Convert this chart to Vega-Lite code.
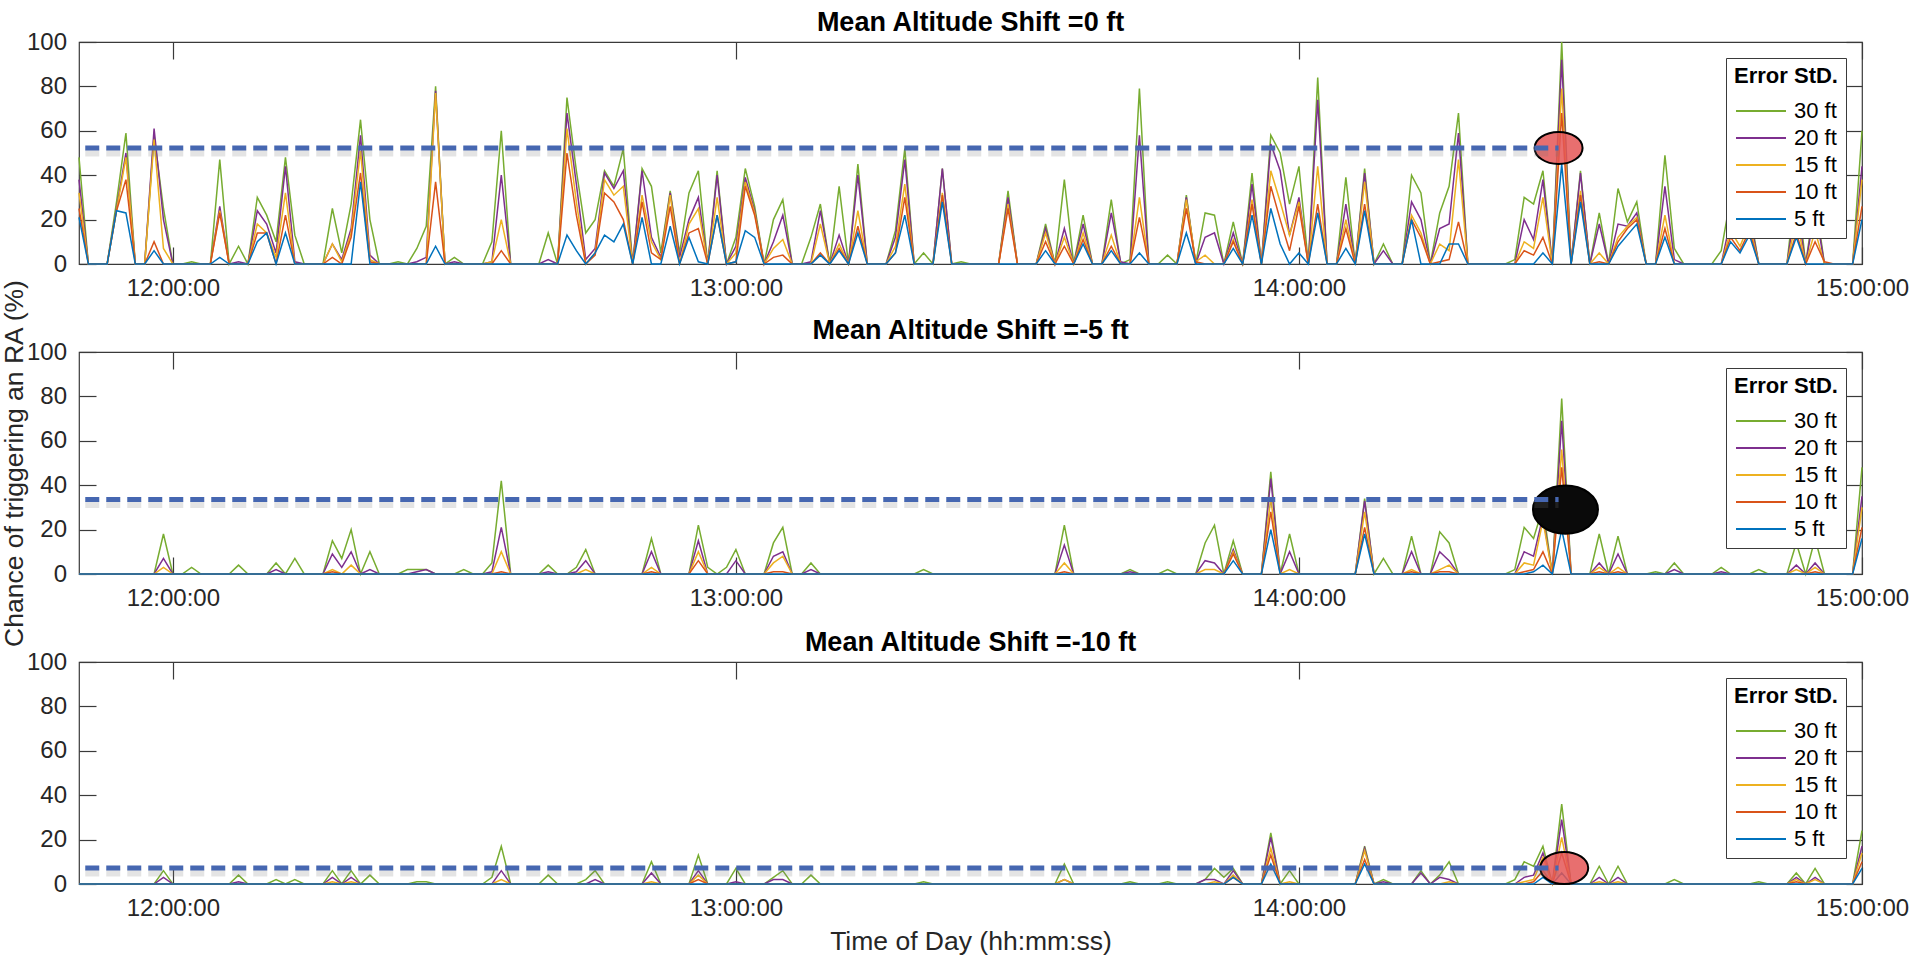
{
"$schema":"https://vega.github.io/schema/vega-lite/v6.json",
"autosize":{"type":"pad"},
"padding":{"left":0,"top":8,"right":5,"bottom":4},
"background":"white",
"bounds":"flush",
"spacing":88,
"config":{
 "font":"Liberation Sans",
 "view":{"stroke":"#3a3a3a","strokeWidth":1.2},
 "axis":{"grid":false,"domain":false,"tickColor":"#3a3a3a","tickWidth":1.2,"labelFont":"Liberation Sans","labelFontSize":24,"labelColor":"#262626","titleFont":"Liberation Sans","titleFontSize":26.5,"titleFontWeight":"normal","titleColor":"#262626","labelFlush":false,"labelOverlap":false,"labelBound":false},
 "title":{"font":"Liberation Sans","fontSize":27,"fontWeight":"bold","color":"#000000","anchor":"middle","baseline":"alphabetic","offset":-7},
 "legend":{"orient":"top-right","offset":16,"padding":8,"fillColor":"#ffffff","strokeColor":"#3a3a3a","strokeWidth":1,"titleFont":"Liberation Sans","titleFontSize":22,"titleFontWeight":"bold","titleColor":"#000000","titleAnchor":"middle","titlePadding":12,"labelFont":"Liberation Sans","labelFontSize":22,"labelColor":"#000000","symbolType":"M-2.5,0H2.5","symbolSize":400,"symbolStrokeWidth":2,"symbolOffset":15,"labelOffset":22,"rowPadding":5}
},
"resolve":{"scale":{"color":"independent","x":"independent","y":"independent"},"legend":{"color":"independent"}},
"datasets":{
"series":[{"k":"g","std":"30 ft"},{"k":"p","std":"20 ft"},{"k":"y","std":"15 ft"},{"k":"r","std":"10 ft"},{"k":"b","std":"5 ft"}],
"shift0":[
{"t":"11:50","g":48,"p":38,"y":32,"r":25,"b":21},{"t":"11:51","g":0,"p":0,"y":0,"r":0,"b":0},{"t":"11:52","g":0,"p":0,"y":0,"r":0,"b":0},{"t":"11:53","g":0,"p":0,"y":0,"r":0,"b":0},{"t":"11:54","g":28,"p":25,"y":24,"r":24,"b":24},{"t":"11:55","g":59,"p":50,"y":48,"r":38,"b":23},{"t":"11:56","g":0,"p":0,"y":0,"r":0,"b":0},{"t":"11:57","g":0,"p":0,"y":0,"r":0,"b":0},{"t":"11:58","g":58,"p":61,"y":56,"r":10,"b":6},{"t":"11:59","g":25,"p":20,"y":7,"r":0,"b":0},
{"t":"12:00","g":0,"p":0,"y":0,"r":0,"b":0},{"t":"12:01","g":0,"p":0,"y":0,"r":0,"b":0},{"t":"12:02","g":1,"p":0,"y":0,"r":0,"b":0},{"t":"12:03","g":0,"p":0,"y":0,"r":0,"b":0},{"t":"12:04","g":0,"p":0,"y":0,"r":0,"b":0},{"t":"12:05","g":47,"p":26,"y":24,"r":23,"b":3},{"t":"12:06","g":0,"p":0,"y":0,"r":0,"b":0},{"t":"12:07","g":8,"p":1,"y":0,"r":0,"b":0},{"t":"12:08","g":0,"p":0,"y":0,"r":0,"b":0},{"t":"12:09","g":30,"p":24,"y":18,"r":14,"b":10},
{"t":"12:10","g":22,"p":18,"y":14,"r":14,"b":14},{"t":"12:11","g":10,"p":5,"y":3,"r":0,"b":0},{"t":"12:12","g":48,"p":44,"y":32,"r":22,"b":14},{"t":"12:13","g":13,"p":1,"y":0,"r":0,"b":0},{"t":"12:14","g":0,"p":0,"y":0,"r":0,"b":0},{"t":"12:15","g":0,"p":0,"y":0,"r":0,"b":0},{"t":"12:16","g":0,"p":0,"y":0,"r":0,"b":0},{"t":"12:17","g":25,"p":9,"y":9,"r":3,"b":0},{"t":"12:18","g":5,"p":2,"y":1,"r":0,"b":0},{"t":"12:19","g":27,"p":16,"y":14,"r":12,"b":0},
{"t":"12:20","g":65,"p":58,"y":51,"r":41,"b":37},{"t":"12:21","g":20,"p":4,"y":2,"r":1,"b":0},{"t":"12:22","g":0,"p":0,"y":0,"r":0,"b":0},{"t":"12:23","g":0,"p":0,"y":0,"r":0,"b":0},{"t":"12:24","g":1,"p":0,"y":0,"r":0,"b":0},{"t":"12:25","g":0,"p":0,"y":0,"r":0,"b":0},{"t":"12:26","g":7,"p":1,"y":0,"r":0,"b":0},{"t":"12:27","g":17,"p":3,"y":0,"r":0,"b":0},{"t":"12:28","g":80,"p":78,"y":77,"r":37,"b":8},{"t":"12:29","g":0,"p":0,"y":0,"r":0,"b":0},
{"t":"12:30","g":3,"p":1,"y":0,"r":0,"b":0},{"t":"12:31","g":0,"p":0,"y":0,"r":0,"b":0},{"t":"12:32","g":0,"p":0,"y":0,"r":0,"b":0},{"t":"12:33","g":0,"p":0,"y":0,"r":0,"b":0},{"t":"12:34","g":10,"p":1,"y":1,"r":0,"b":0},{"t":"12:35","g":60,"p":40,"y":20,"r":6,"b":0},{"t":"12:36","g":0,"p":0,"y":0,"r":0,"b":0},{"t":"12:37","g":0,"p":0,"y":0,"r":0,"b":0},{"t":"12:38","g":0,"p":0,"y":0,"r":0,"b":0},{"t":"12:39","g":0,"p":0,"y":0,"r":0,"b":0},
{"t":"12:40","g":14,"p":2,"y":0,"r":0,"b":0},{"t":"12:41","g":0,"p":0,"y":0,"r":0,"b":0},{"t":"12:42","g":75,"p":68,"y":61,"r":50,"b":13},{"t":"12:43","g":42,"p":36,"y":28,"r":22,"b":6},{"t":"12:44","g":14,"p":2,"y":0,"r":0,"b":0},{"t":"12:45","g":20,"p":7,"y":5,"r":4,"b":5},{"t":"12:46","g":42,"p":41,"y":38,"r":32,"b":13},{"t":"12:47","g":35,"p":34,"y":31,"r":28,"b":10},{"t":"12:48","g":52,"p":42,"y":35,"r":20,"b":18},{"t":"12:49","g":0,"p":0,"y":0,"r":0,"b":0},
{"t":"12:50","g":43,"p":42,"y":31,"r":28,"b":21},{"t":"12:51","g":35,"p":12,"y":10,"r":5,"b":0},{"t":"12:52","g":5,"p":3,"y":2,"r":2,"b":0},{"t":"12:53","g":33,"p":32,"y":31,"r":26,"b":17},{"t":"12:54","g":5,"p":3,"y":0,"r":0,"b":0},{"t":"12:55","g":32,"p":20,"y":18,"r":14,"b":12},{"t":"12:56","g":42,"p":30,"y":25,"r":16,"b":1},{"t":"12:57","g":0,"p":0,"y":0,"r":0,"b":0},{"t":"12:58","g":42,"p":40,"y":30,"r":22,"b":22},{"t":"12:59","g":0,"p":0,"y":0,"r":0,"b":0},
{"t":"13:00","g":12,"p":8,"y":5,"r":1,"b":1},{"t":"13:01","g":43,"p":39,"y":37,"r":35,"b":15},{"t":"13:02","g":26,"p":24,"y":23,"r":22,"b":12},{"t":"13:03","g":0,"p":0,"y":0,"r":0,"b":0},{"t":"13:04","g":20,"p":10,"y":7,"r":3,"b":0},{"t":"13:05","g":29,"p":22,"y":11,"r":4,"b":0},{"t":"13:06","g":0,"p":0,"y":0,"r":0,"b":0},{"t":"13:07","g":0,"p":0,"y":0,"r":0,"b":0},{"t":"13:08","g":12,"p":1,"y":0,"r":0,"b":0},{"t":"13:09","g":27,"p":24,"y":18,"r":5,"b":4},
{"t":"13:10","g":0,"p":0,"y":0,"r":0,"b":0},{"t":"13:11","g":35,"p":13,"y":9,"r":7,"b":6},{"t":"13:12","g":0,"p":0,"y":0,"r":0,"b":0},{"t":"13:13","g":45,"p":40,"y":24,"r":17,"b":14},{"t":"13:14","g":0,"p":0,"y":0,"r":0,"b":0},{"t":"13:15","g":0,"p":0,"y":0,"r":0,"b":0},{"t":"13:16","g":0,"p":0,"y":0,"r":0,"b":0},{"t":"13:17","g":15,"p":12,"y":8,"r":5,"b":5},{"t":"13:18","g":52,"p":47,"y":36,"r":30,"b":22},{"t":"13:19","g":0,"p":0,"y":0,"r":0,"b":0},
{"t":"13:20","g":5,"p":0,"y":0,"r":0,"b":0},{"t":"13:21","g":0,"p":0,"y":0,"r":0,"b":0},{"t":"13:22","g":43,"p":43,"y":32,"r":31,"b":28},{"t":"13:23","g":0,"p":0,"y":0,"r":0,"b":0},{"t":"13:24","g":1,"p":0,"y":0,"r":0,"b":0},{"t":"13:25","g":0,"p":0,"y":0,"r":0,"b":0},{"t":"13:26","g":0,"p":0,"y":0,"r":0,"b":0},{"t":"13:27","g":0,"p":0,"y":0,"r":0,"b":0},{"t":"13:28","g":0,"p":0,"y":0,"r":0,"b":0},{"t":"13:29","g":33,"p":30,"y":27,"r":25,"b":0},
{"t":"13:30","g":0,"p":0,"y":0,"r":0,"b":0},{"t":"13:31","g":0,"p":0,"y":0,"r":0,"b":0},{"t":"13:32","g":0,"p":0,"y":0,"r":0,"b":0},{"t":"13:33","g":18,"p":16,"y":14,"r":10,"b":6},{"t":"13:34","g":0,"p":0,"y":0,"r":0,"b":0},{"t":"13:35","g":38,"p":16,"y":12,"r":8,"b":0},{"t":"13:36","g":0,"p":0,"y":0,"r":0,"b":0},{"t":"13:37","g":22,"p":18,"y":14,"r":11,"b":9},{"t":"13:38","g":0,"p":0,"y":0,"r":0,"b":0},{"t":"13:39","g":0,"p":0,"y":0,"r":0,"b":0},
{"t":"13:40","g":29,"p":23,"y":13,"r":8,"b":6},{"t":"13:41","g":0,"p":1,"y":0,"r":0,"b":0},{"t":"13:42","g":2,"p":0,"y":0,"r":0,"b":0},{"t":"13:43","g":79,"p":58,"y":30,"r":21,"b":5},{"t":"13:44","g":0,"p":0,"y":0,"r":0,"b":0},{"t":"13:45","g":0,"p":0,"y":0,"r":0,"b":0},{"t":"13:46","g":4,"p":0,"y":0,"r":0,"b":0},{"t":"13:47","g":0,"p":0,"y":0,"r":0,"b":0},{"t":"13:48","g":31,"p":30,"y":29,"r":25,"b":14},{"t":"13:49","g":0,"p":0,"y":1,"r":1,"b":0},
{"t":"13:50","g":23,"p":12,"y":4,"r":0,"b":0},{"t":"13:51","g":22,"p":14,"y":0,"r":0,"b":0},{"t":"13:52","g":0,"p":0,"y":0,"r":0,"b":0},{"t":"13:53","g":19,"p":14,"y":11,"r":10,"b":7},{"t":"13:54","g":0,"p":0,"y":0,"r":0,"b":0},{"t":"13:55","g":41,"p":36,"y":29,"r":27,"b":22},{"t":"13:56","g":0,"p":0,"y":0,"r":0,"b":0},{"t":"13:57","g":58,"p":54,"y":42,"r":35,"b":25},{"t":"13:58","g":50,"p":42,"y":28,"r":20,"b":9},{"t":"13:59","g":27,"p":13,"y":13,"r":6,"b":0},
{"t":"14:00","g":44,"p":30,"y":28,"r":26,"b":5},{"t":"14:01","g":0,"p":0,"y":0,"r":0,"b":0},{"t":"14:02","g":84,"p":74,"y":44,"r":27,"b":23},{"t":"14:03","g":0,"p":0,"y":0,"r":0,"b":0},{"t":"14:04","g":0,"p":0,"y":0,"r":0,"b":0},{"t":"14:05","g":39,"p":27,"y":20,"r":16,"b":7},{"t":"14:06","g":0,"p":0,"y":0,"r":0,"b":0},{"t":"14:07","g":43,"p":41,"y":37,"r":27,"b":24},{"t":"14:08","g":0,"p":0,"y":0,"r":0,"b":0},{"t":"14:09","g":9,"p":6,"y":0,"r":0,"b":0},
{"t":"14:10","g":0,"p":0,"y":0,"r":0,"b":0},{"t":"14:11","g":0,"p":0,"y":0,"r":0,"b":0},{"t":"14:12","g":40,"p":28,"y":22,"r":20,"b":20},{"t":"14:13","g":32,"p":20,"y":14,"r":12,"b":0},{"t":"14:14","g":0,"p":0,"y":0,"r":0,"b":0},{"t":"14:15","g":23,"p":16,"y":9,"r":1,"b":0},{"t":"14:16","g":35,"p":18,"y":6,"r":2,"b":9},{"t":"14:17","g":68,"p":59,"y":47,"r":19,"b":9},{"t":"14:18","g":0,"p":0,"y":0,"r":0,"b":0},{"t":"14:19","g":0,"p":0,"y":0,"r":0,"b":0},
{"t":"14:20","g":0,"p":0,"y":0,"r":0,"b":0},{"t":"14:21","g":0,"p":0,"y":0,"r":0,"b":0},{"t":"14:22","g":0,"p":0,"y":0,"r":0,"b":0},{"t":"14:23","g":2,"p":0,"y":0,"r":0,"b":0},{"t":"14:24","g":30,"p":20,"y":10,"r":6,"b":0},{"t":"14:25","g":27,"p":11,"y":7,"r":4,"b":0},{"t":"14:26","g":42,"p":38,"y":30,"r":12,"b":5},{"t":"14:27","g":0,"p":0,"y":0,"r":0,"b":0},{"t":"14:28","g":100,"p":92,"y":79,"r":68,"b":45},{"t":"14:29","g":0,"p":0,"y":0,"r":0,"b":0},
{"t":"14:30","g":42,"p":41,"y":33,"r":31,"b":28},{"t":"14:31","g":0,"p":0,"y":0,"r":0,"b":0},{"t":"14:32","g":23,"p":18,"y":5,"r":1,"b":0},{"t":"14:33","g":0,"p":0,"y":0,"r":0,"b":0},{"t":"14:34","g":34,"p":18,"y":12,"r":10,"b":8},{"t":"14:35","g":19,"p":17,"y":17,"r":16,"b":13},{"t":"14:36","g":28,"p":23,"y":21,"r":20,"b":18},{"t":"14:37","g":0,"p":0,"y":0,"r":0,"b":0},{"t":"14:38","g":0,"p":0,"y":0,"r":0,"b":0},{"t":"14:39","g":49,"p":35,"y":22,"r":16,"b":12},
{"t":"14:40","g":7,"p":2,"y":0,"r":0,"b":0},{"t":"14:41","g":0,"p":0,"y":0,"r":0,"b":0},{"t":"14:42","g":0,"p":0,"y":0,"r":0,"b":0},{"t":"14:43","g":0,"p":0,"y":0,"r":0,"b":0},{"t":"14:44","g":0,"p":0,"y":0,"r":0,"b":0},{"t":"14:45","g":6,"p":0,"y":0,"r":0,"b":0},{"t":"14:46","g":30,"p":20,"y":15,"r":12,"b":10},{"t":"14:47","g":20,"p":12,"y":8,"r":6,"b":5},{"t":"14:48","g":25,"p":22,"y":18,"r":15,"b":13},{"t":"14:49","g":0,"p":0,"y":0,"r":0,"b":0},
{"t":"14:50","g":0,"p":0,"y":0,"r":0,"b":0},{"t":"14:51","g":0,"p":0,"y":0,"r":0,"b":0},{"t":"14:52","g":0,"p":0,"y":0,"r":0,"b":0},{"t":"14:53","g":38,"p":28,"y":20,"r":14,"b":12},{"t":"14:54","g":0,"p":0,"y":0,"r":0,"b":0},{"t":"14:55","g":30,"p":25,"y":15,"r":10,"b":0},{"t":"14:56","g":0,"p":0,"y":0,"r":1,"b":0},{"t":"14:57","g":0,"p":0,"y":0,"r":0,"b":0},{"t":"14:58","g":0,"p":0,"y":0,"r":0,"b":0},{"t":"14:59","g":0,"p":0,"y":0,"r":0,"b":0},
{"t":"15:00","g":60,"p":44,"y":38,"r":26,"b":20}
],
"shift5":[
{"t":"11:50","g":0,"p":0,"y":0,"r":0,"b":0},{"t":"11:51","g":0,"p":0,"y":0,"r":0,"b":0},{"t":"11:52","g":0,"p":0,"y":0,"r":0,"b":0},{"t":"11:53","g":0,"p":0,"y":0,"r":0,"b":0},{"t":"11:54","g":0,"p":0,"y":0,"r":0,"b":0},{"t":"11:55","g":0,"p":0,"y":0,"r":0,"b":0},{"t":"11:56","g":0,"p":0,"y":0,"r":0,"b":0},{"t":"11:57","g":0,"p":0,"y":0,"r":0,"b":0},{"t":"11:58","g":0,"p":0,"y":0,"r":0,"b":0},{"t":"11:59","g":18,"p":7,"y":3,"r":0,"b":0},
{"t":"12:00","g":0,"p":0,"y":0,"r":0,"b":0},{"t":"12:01","g":0,"p":0,"y":0,"r":0,"b":0},{"t":"12:02","g":3,"p":0,"y":0,"r":0,"b":0},{"t":"12:03","g":0,"p":0,"y":0,"r":0,"b":0},{"t":"12:04","g":0,"p":0,"y":0,"r":0,"b":0},{"t":"12:05","g":0,"p":0,"y":0,"r":0,"b":0},{"t":"12:06","g":0,"p":0,"y":0,"r":0,"b":0},{"t":"12:07","g":4,"p":0,"y":0,"r":0,"b":0},{"t":"12:08","g":0,"p":0,"y":0,"r":0,"b":0},{"t":"12:09","g":0,"p":0,"y":0,"r":0,"b":0},
{"t":"12:10","g":0,"p":0,"y":0,"r":0,"b":0},{"t":"12:11","g":5,"p":2,"y":0,"r":0,"b":0},{"t":"12:12","g":0,"p":0,"y":0,"r":0,"b":0},{"t":"12:13","g":7,"p":0,"y":0,"r":0,"b":0},{"t":"12:14","g":0,"p":0,"y":0,"r":0,"b":0},{"t":"12:15","g":0,"p":0,"y":0,"r":0,"b":0},{"t":"12:16","g":0,"p":0,"y":0,"r":0,"b":0},{"t":"12:17","g":15,"p":9,"y":2,"r":1,"b":0},{"t":"12:18","g":7,"p":3,"y":0,"r":0,"b":0},{"t":"12:19","g":20,"p":10,"y":4,"r":0,"b":0},
{"t":"12:20","g":0,"p":0,"y":0,"r":0,"b":0},{"t":"12:21","g":10,"p":2,"y":0,"r":0,"b":0},{"t":"12:22","g":0,"p":0,"y":0,"r":0,"b":0},{"t":"12:23","g":0,"p":0,"y":0,"r":0,"b":0},{"t":"12:24","g":0,"p":0,"y":0,"r":0,"b":0},{"t":"12:25","g":2,"p":0,"y":0,"r":0,"b":0},{"t":"12:26","g":2,"p":1,"y":0,"r":0,"b":0},{"t":"12:27","g":2,"p":2,"y":0,"r":0,"b":0},{"t":"12:28","g":0,"p":0,"y":0,"r":0,"b":0},{"t":"12:29","g":0,"p":0,"y":0,"r":0,"b":0},
{"t":"12:30","g":0,"p":0,"y":0,"r":0,"b":0},{"t":"12:31","g":2,"p":0,"y":0,"r":0,"b":0},{"t":"12:32","g":0,"p":0,"y":0,"r":0,"b":0},{"t":"12:33","g":0,"p":0,"y":0,"r":0,"b":0},{"t":"12:34","g":5,"p":1,"y":0,"r":0,"b":0},{"t":"12:35","g":42,"p":21,"y":10,"r":1,"b":0},{"t":"12:36","g":0,"p":0,"y":0,"r":0,"b":0},{"t":"12:37","g":0,"p":0,"y":0,"r":0,"b":0},{"t":"12:38","g":0,"p":0,"y":0,"r":0,"b":0},{"t":"12:39","g":0,"p":0,"y":0,"r":0,"b":0},
{"t":"12:40","g":4,"p":1,"y":0,"r":0,"b":0},{"t":"12:41","g":0,"p":0,"y":0,"r":0,"b":0},{"t":"12:42","g":0,"p":0,"y":0,"r":0,"b":0},{"t":"12:43","g":3,"p":1,"y":0,"r":0,"b":0},{"t":"12:44","g":11,"p":6,"y":2,"r":0,"b":0},{"t":"12:45","g":0,"p":0,"y":0,"r":0,"b":0},{"t":"12:46","g":0,"p":0,"y":0,"r":0,"b":0},{"t":"12:47","g":0,"p":0,"y":0,"r":0,"b":0},{"t":"12:48","g":0,"p":0,"y":0,"r":0,"b":0},{"t":"12:49","g":0,"p":0,"y":0,"r":0,"b":0},
{"t":"12:50","g":0,"p":0,"y":0,"r":0,"b":0},{"t":"12:51","g":16,"p":10,"y":3,"r":1,"b":0},{"t":"12:52","g":0,"p":0,"y":0,"r":0,"b":0},{"t":"12:53","g":0,"p":0,"y":0,"r":0,"b":0},{"t":"12:54","g":0,"p":0,"y":0,"r":0,"b":0},{"t":"12:55","g":0,"p":0,"y":0,"r":0,"b":0},{"t":"12:56","g":22,"p":15,"y":10,"r":6,"b":0},{"t":"12:57","g":3,"p":0,"y":0,"r":0,"b":0},{"t":"12:58","g":0,"p":0,"y":0,"r":0,"b":0},{"t":"12:59","g":3,"p":0,"y":0,"r":0,"b":0},
{"t":"13:00","g":11,"p":6,"y":0,"r":0,"b":0},{"t":"13:01","g":0,"p":0,"y":0,"r":0,"b":0},{"t":"13:02","g":0,"p":0,"y":0,"r":0,"b":0},{"t":"13:03","g":0,"p":0,"y":0,"r":0,"b":0},{"t":"13:04","g":14,"p":8,"y":5,"r":1,"b":0},{"t":"13:05","g":21,"p":10,"y":8,"r":1,"b":0},{"t":"13:06","g":0,"p":0,"y":0,"r":0,"b":0},{"t":"13:07","g":0,"p":0,"y":0,"r":0,"b":0},{"t":"13:08","g":5,"p":2,"y":0,"r":0,"b":0},{"t":"13:09","g":0,"p":0,"y":0,"r":0,"b":0},
{"t":"13:10","g":0,"p":0,"y":0,"r":0,"b":0},{"t":"13:11","g":0,"p":0,"y":0,"r":0,"b":0},{"t":"13:12","g":0,"p":0,"y":0,"r":0,"b":0},{"t":"13:13","g":0,"p":0,"y":0,"r":0,"b":0},{"t":"13:14","g":0,"p":0,"y":0,"r":0,"b":0},{"t":"13:15","g":0,"p":0,"y":0,"r":0,"b":0},{"t":"13:16","g":0,"p":0,"y":0,"r":0,"b":0},{"t":"13:17","g":0,"p":0,"y":0,"r":0,"b":0},{"t":"13:18","g":0,"p":0,"y":0,"r":0,"b":0},{"t":"13:19","g":0,"p":0,"y":0,"r":0,"b":0},
{"t":"13:20","g":2,"p":0,"y":0,"r":0,"b":0},{"t":"13:21","g":0,"p":0,"y":0,"r":0,"b":0},{"t":"13:22","g":0,"p":0,"y":0,"r":0,"b":0},{"t":"13:23","g":0,"p":0,"y":0,"r":0,"b":0},{"t":"13:24","g":0,"p":0,"y":0,"r":0,"b":0},{"t":"13:25","g":0,"p":0,"y":0,"r":0,"b":0},{"t":"13:26","g":0,"p":0,"y":0,"r":0,"b":0},{"t":"13:27","g":0,"p":0,"y":0,"r":0,"b":0},{"t":"13:28","g":0,"p":0,"y":0,"r":0,"b":0},{"t":"13:29","g":0,"p":0,"y":0,"r":0,"b":0},
{"t":"13:30","g":0,"p":0,"y":0,"r":0,"b":0},{"t":"13:31","g":0,"p":0,"y":0,"r":0,"b":0},{"t":"13:32","g":0,"p":0,"y":0,"r":0,"b":0},{"t":"13:33","g":0,"p":0,"y":0,"r":0,"b":0},{"t":"13:34","g":0,"p":0,"y":0,"r":0,"b":0},{"t":"13:35","g":22,"p":13,"y":5,"r":1,"b":0},{"t":"13:36","g":0,"p":0,"y":0,"r":0,"b":0},{"t":"13:37","g":0,"p":0,"y":0,"r":0,"b":0},{"t":"13:38","g":0,"p":0,"y":0,"r":0,"b":0},{"t":"13:39","g":0,"p":0,"y":0,"r":0,"b":0},
{"t":"13:40","g":0,"p":0,"y":0,"r":0,"b":0},{"t":"13:41","g":0,"p":0,"y":0,"r":0,"b":0},{"t":"13:42","g":2,"p":1,"y":0,"r":0,"b":0},{"t":"13:43","g":0,"p":0,"y":0,"r":0,"b":0},{"t":"13:44","g":0,"p":0,"y":0,"r":0,"b":0},{"t":"13:45","g":0,"p":0,"y":0,"r":0,"b":0},{"t":"13:46","g":2,"p":0,"y":0,"r":0,"b":0},{"t":"13:47","g":0,"p":0,"y":0,"r":0,"b":0},{"t":"13:48","g":0,"p":0,"y":0,"r":0,"b":0},{"t":"13:49","g":0,"p":0,"y":0,"r":0,"b":0},
{"t":"13:50","g":14,"p":6,"y":2,"r":0,"b":0},{"t":"13:51","g":22,"p":5,"y":2,"r":0,"b":0},{"t":"13:52","g":0,"p":0,"y":0,"r":0,"b":0},{"t":"13:53","g":15,"p":11,"y":10,"r":9,"b":6},{"t":"13:54","g":0,"p":0,"y":0,"r":0,"b":0},{"t":"13:55","g":0,"p":0,"y":0,"r":0,"b":0},{"t":"13:56","g":0,"p":0,"y":0,"r":0,"b":0},{"t":"13:57","g":46,"p":43,"y":34,"r":28,"b":20},{"t":"13:58","g":0,"p":0,"y":0,"r":0,"b":0},{"t":"13:59","g":18,"p":10,"y":2,"r":0,"b":0},
{"t":"14:00","g":0,"p":0,"y":0,"r":0,"b":0},{"t":"14:01","g":0,"p":0,"y":0,"r":0,"b":0},{"t":"14:02","g":0,"p":0,"y":0,"r":0,"b":0},{"t":"14:03","g":0,"p":0,"y":0,"r":0,"b":0},{"t":"14:04","g":0,"p":0,"y":0,"r":0,"b":0},{"t":"14:05","g":0,"p":0,"y":0,"r":0,"b":0},{"t":"14:06","g":0,"p":0,"y":0,"r":0,"b":0},{"t":"14:07","g":34,"p":33,"y":28,"r":21,"b":18},{"t":"14:08","g":0,"p":0,"y":0,"r":0,"b":0},{"t":"14:09","g":7,"p":0,"y":0,"r":0,"b":0},
{"t":"14:10","g":0,"p":0,"y":0,"r":0,"b":0},{"t":"14:11","g":0,"p":0,"y":0,"r":0,"b":0},{"t":"14:12","g":17,"p":10,"y":2,"r":1,"b":0},{"t":"14:13","g":0,"p":0,"y":0,"r":0,"b":0},{"t":"14:14","g":0,"p":0,"y":0,"r":0,"b":0},{"t":"14:15","g":19,"p":10,"y":2,"r":1,"b":0},{"t":"14:16","g":14,"p":6,"y":4,"r":1,"b":0},{"t":"14:17","g":0,"p":0,"y":0,"r":0,"b":0},{"t":"14:18","g":0,"p":0,"y":0,"r":0,"b":0},{"t":"14:19","g":0,"p":0,"y":0,"r":0,"b":0},
{"t":"14:20","g":0,"p":0,"y":0,"r":0,"b":0},{"t":"14:21","g":0,"p":0,"y":0,"r":0,"b":0},{"t":"14:22","g":0,"p":0,"y":0,"r":0,"b":0},{"t":"14:23","g":2,"p":0,"y":0,"r":0,"b":0},{"t":"14:24","g":21,"p":10,"y":5,"r":1,"b":0},{"t":"14:25","g":16,"p":8,"y":4,"r":2,"b":1},{"t":"14:26","g":30,"p":26,"y":24,"r":10,"b":4},{"t":"14:27","g":0,"p":0,"y":0,"r":0,"b":0},{"t":"14:28","g":79,"p":69,"y":56,"r":48,"b":20},{"t":"14:29","g":0,"p":0,"y":0,"r":0,"b":0},
{"t":"14:30","g":0,"p":0,"y":0,"r":0,"b":0},{"t":"14:31","g":0,"p":0,"y":0,"r":0,"b":0},{"t":"14:32","g":18,"p":5,"y":3,"r":1,"b":0},{"t":"14:33","g":0,"p":0,"y":0,"r":0,"b":0},{"t":"14:34","g":17,"p":9,"y":3,"r":1,"b":0},{"t":"14:35","g":0,"p":0,"y":0,"r":0,"b":0},{"t":"14:36","g":0,"p":0,"y":0,"r":0,"b":0},{"t":"14:37","g":0,"p":0,"y":0,"r":0,"b":0},{"t":"14:38","g":1,"p":0,"y":0,"r":0,"b":0},{"t":"14:39","g":0,"p":0,"y":0,"r":0,"b":0},
{"t":"14:40","g":5,"p":2,"y":0,"r":0,"b":0},{"t":"14:41","g":0,"p":0,"y":0,"r":0,"b":0},{"t":"14:42","g":0,"p":0,"y":0,"r":0,"b":0},{"t":"14:43","g":0,"p":0,"y":0,"r":0,"b":0},{"t":"14:44","g":0,"p":0,"y":0,"r":0,"b":0},{"t":"14:45","g":3,"p":1,"y":0,"r":0,"b":0},{"t":"14:46","g":0,"p":0,"y":0,"r":0,"b":0},{"t":"14:47","g":0,"p":0,"y":0,"r":0,"b":0},{"t":"14:48","g":0,"p":0,"y":0,"r":0,"b":0},{"t":"14:49","g":2,"p":0,"y":0,"r":0,"b":0},
{"t":"14:50","g":0,"p":0,"y":0,"r":0,"b":0},{"t":"14:51","g":0,"p":0,"y":0,"r":0,"b":0},{"t":"14:52","g":0,"p":0,"y":0,"r":0,"b":0},{"t":"14:53","g":14,"p":4,"y":2,"r":0,"b":0},{"t":"14:54","g":0,"p":0,"y":0,"r":0,"b":0},{"t":"14:55","g":16,"p":5,"y":3,"r":1,"b":0},{"t":"14:56","g":0,"p":0,"y":0,"r":0,"b":0},{"t":"14:57","g":0,"p":0,"y":0,"r":0,"b":0},{"t":"14:58","g":0,"p":0,"y":0,"r":0,"b":0},{"t":"14:59","g":0,"p":0,"y":0,"r":0,"b":0},
{"t":"15:00","g":48,"p":35,"y":30,"r":21,"b":16}
],
"shift10":[
{"t":"11:50","g":0,"p":0,"y":0,"r":0,"b":0},{"t":"11:51","g":0,"p":0,"y":0,"r":0,"b":0},{"t":"11:52","g":0,"p":0,"y":0,"r":0,"b":0},{"t":"11:53","g":0,"p":0,"y":0,"r":0,"b":0},{"t":"11:54","g":0,"p":0,"y":0,"r":0,"b":0},{"t":"11:55","g":0,"p":0,"y":0,"r":0,"b":0},{"t":"11:56","g":0,"p":0,"y":0,"r":0,"b":0},{"t":"11:57","g":0,"p":0,"y":0,"r":0,"b":0},{"t":"11:58","g":0,"p":0,"y":0,"r":0,"b":0},{"t":"11:59","g":6,"p":3,"y":0,"r":0,"b":0},
{"t":"12:00","g":0,"p":0,"y":0,"r":0,"b":0},{"t":"12:01","g":0,"p":0,"y":0,"r":0,"b":0},{"t":"12:02","g":0,"p":0,"y":0,"r":0,"b":0},{"t":"12:03","g":0,"p":0,"y":0,"r":0,"b":0},{"t":"12:04","g":0,"p":0,"y":0,"r":0,"b":0},{"t":"12:05","g":0,"p":0,"y":0,"r":0,"b":0},{"t":"12:06","g":0,"p":0,"y":0,"r":0,"b":0},{"t":"12:07","g":4,"p":1,"y":0,"r":0,"b":0},{"t":"12:08","g":0,"p":0,"y":0,"r":0,"b":0},{"t":"12:09","g":0,"p":0,"y":0,"r":0,"b":0},
{"t":"12:10","g":0,"p":0,"y":0,"r":0,"b":0},{"t":"12:11","g":2,"p":0,"y":0,"r":0,"b":0},{"t":"12:12","g":0,"p":0,"y":0,"r":0,"b":0},{"t":"12:13","g":2,"p":0,"y":0,"r":0,"b":0},{"t":"12:14","g":0,"p":0,"y":0,"r":0,"b":0},{"t":"12:15","g":0,"p":0,"y":0,"r":0,"b":0},{"t":"12:16","g":0,"p":0,"y":0,"r":0,"b":0},{"t":"12:17","g":6,"p":3,"y":1,"r":0,"b":0},{"t":"12:18","g":0,"p":0,"y":0,"r":0,"b":0},{"t":"12:19","g":6,"p":3,"y":1,"r":0,"b":0},
{"t":"12:20","g":0,"p":0,"y":0,"r":0,"b":0},{"t":"12:21","g":4,"p":0,"y":0,"r":0,"b":0},{"t":"12:22","g":0,"p":0,"y":0,"r":0,"b":0},{"t":"12:23","g":0,"p":0,"y":0,"r":0,"b":0},{"t":"12:24","g":0,"p":0,"y":0,"r":0,"b":0},{"t":"12:25","g":0,"p":0,"y":0,"r":0,"b":0},{"t":"12:26","g":1,"p":0,"y":0,"r":0,"b":0},{"t":"12:27","g":1,"p":0,"y":0,"r":0,"b":0},{"t":"12:28","g":0,"p":0,"y":0,"r":0,"b":0},{"t":"12:29","g":0,"p":0,"y":0,"r":0,"b":0},
{"t":"12:30","g":0,"p":0,"y":0,"r":0,"b":0},{"t":"12:31","g":0,"p":0,"y":0,"r":0,"b":0},{"t":"12:32","g":0,"p":0,"y":0,"r":0,"b":0},{"t":"12:33","g":0,"p":0,"y":0,"r":0,"b":0},{"t":"12:34","g":3,"p":0,"y":0,"r":0,"b":0},{"t":"12:35","g":17,"p":6,"y":2,"r":0,"b":0},{"t":"12:36","g":0,"p":0,"y":0,"r":0,"b":0},{"t":"12:37","g":0,"p":0,"y":0,"r":0,"b":0},{"t":"12:38","g":0,"p":0,"y":0,"r":0,"b":0},{"t":"12:39","g":0,"p":0,"y":0,"r":0,"b":0},
{"t":"12:40","g":4,"p":0,"y":0,"r":0,"b":0},{"t":"12:41","g":0,"p":0,"y":0,"r":0,"b":0},{"t":"12:42","g":0,"p":0,"y":0,"r":0,"b":0},{"t":"12:43","g":0,"p":0,"y":0,"r":0,"b":0},{"t":"12:44","g":2,"p":0,"y":0,"r":0,"b":0},{"t":"12:45","g":6,"p":2,"y":0,"r":0,"b":0},{"t":"12:46","g":0,"p":0,"y":0,"r":0,"b":0},{"t":"12:47","g":0,"p":0,"y":0,"r":0,"b":0},{"t":"12:48","g":0,"p":0,"y":0,"r":0,"b":0},{"t":"12:49","g":0,"p":0,"y":0,"r":0,"b":0},
{"t":"12:50","g":0,"p":0,"y":0,"r":0,"b":0},{"t":"12:51","g":10,"p":5,"y":1,"r":0,"b":0},{"t":"12:52","g":0,"p":0,"y":0,"r":0,"b":0},{"t":"12:53","g":0,"p":0,"y":0,"r":0,"b":0},{"t":"12:54","g":0,"p":0,"y":0,"r":0,"b":0},{"t":"12:55","g":0,"p":0,"y":0,"r":0,"b":0},{"t":"12:56","g":13,"p":6,"y":4,"r":2,"b":0},{"t":"12:57","g":0,"p":0,"y":0,"r":0,"b":0},{"t":"12:58","g":0,"p":0,"y":0,"r":0,"b":0},{"t":"12:59","g":0,"p":0,"y":0,"r":0,"b":0},
{"t":"13:00","g":7,"p":1,"y":0,"r":0,"b":0},{"t":"13:01","g":0,"p":0,"y":0,"r":0,"b":0},{"t":"13:02","g":0,"p":0,"y":0,"r":0,"b":0},{"t":"13:03","g":0,"p":0,"y":0,"r":0,"b":0},{"t":"13:04","g":3,"p":2,"y":0,"r":0,"b":0},{"t":"13:05","g":6,"p":2,"y":0,"r":0,"b":0},{"t":"13:06","g":0,"p":0,"y":0,"r":0,"b":0},{"t":"13:07","g":0,"p":0,"y":0,"r":0,"b":0},{"t":"13:08","g":4,"p":0,"y":0,"r":0,"b":0},{"t":"13:09","g":0,"p":0,"y":0,"r":0,"b":0},
{"t":"13:10","g":0,"p":0,"y":0,"r":0,"b":0},{"t":"13:11","g":0,"p":0,"y":0,"r":0,"b":0},{"t":"13:12","g":0,"p":0,"y":0,"r":0,"b":0},{"t":"13:13","g":0,"p":0,"y":0,"r":0,"b":0},{"t":"13:14","g":0,"p":0,"y":0,"r":0,"b":0},{"t":"13:15","g":0,"p":0,"y":0,"r":0,"b":0},{"t":"13:16","g":0,"p":0,"y":0,"r":0,"b":0},{"t":"13:17","g":0,"p":0,"y":0,"r":0,"b":0},{"t":"13:18","g":0,"p":0,"y":0,"r":0,"b":0},{"t":"13:19","g":0,"p":0,"y":0,"r":0,"b":0},
{"t":"13:20","g":1,"p":0,"y":0,"r":0,"b":0},{"t":"13:21","g":0,"p":0,"y":0,"r":0,"b":0},{"t":"13:22","g":0,"p":0,"y":0,"r":0,"b":0},{"t":"13:23","g":0,"p":0,"y":0,"r":0,"b":0},{"t":"13:24","g":0,"p":0,"y":0,"r":0,"b":0},{"t":"13:25","g":0,"p":0,"y":0,"r":0,"b":0},{"t":"13:26","g":0,"p":0,"y":0,"r":0,"b":0},{"t":"13:27","g":0,"p":0,"y":0,"r":0,"b":0},{"t":"13:28","g":0,"p":0,"y":0,"r":0,"b":0},{"t":"13:29","g":0,"p":0,"y":0,"r":0,"b":0},
{"t":"13:30","g":0,"p":0,"y":0,"r":0,"b":0},{"t":"13:31","g":0,"p":0,"y":0,"r":0,"b":0},{"t":"13:32","g":0,"p":0,"y":0,"r":0,"b":0},{"t":"13:33","g":0,"p":0,"y":0,"r":0,"b":0},{"t":"13:34","g":0,"p":0,"y":0,"r":0,"b":0},{"t":"13:35","g":9,"p":2,"y":2,"r":0,"b":0},{"t":"13:36","g":0,"p":0,"y":0,"r":0,"b":0},{"t":"13:37","g":0,"p":0,"y":0,"r":0,"b":0},{"t":"13:38","g":0,"p":0,"y":0,"r":0,"b":0},{"t":"13:39","g":0,"p":0,"y":0,"r":0,"b":0},
{"t":"13:40","g":0,"p":0,"y":0,"r":0,"b":0},{"t":"13:41","g":0,"p":0,"y":0,"r":0,"b":0},{"t":"13:42","g":1,"p":0,"y":0,"r":0,"b":0},{"t":"13:43","g":0,"p":0,"y":0,"r":0,"b":0},{"t":"13:44","g":0,"p":0,"y":0,"r":0,"b":0},{"t":"13:45","g":0,"p":0,"y":0,"r":0,"b":0},{"t":"13:46","g":1,"p":0,"y":0,"r":0,"b":0},{"t":"13:47","g":0,"p":0,"y":0,"r":0,"b":0},{"t":"13:48","g":0,"p":0,"y":0,"r":0,"b":0},{"t":"13:49","g":0,"p":0,"y":0,"r":0,"b":0},
{"t":"13:50","g":2,"p":2,"y":0,"r":0,"b":0},{"t":"13:51","g":7,"p":2,"y":1,"r":0,"b":0},{"t":"13:52","g":3,"p":0,"y":0,"r":0,"b":0},{"t":"13:53","g":7,"p":6,"y":4,"r":3,"b":3},{"t":"13:54","g":0,"p":0,"y":0,"r":0,"b":0},{"t":"13:55","g":0,"p":0,"y":0,"r":0,"b":0},{"t":"13:56","g":0,"p":0,"y":0,"r":0,"b":0},{"t":"13:57","g":23,"p":21,"y":16,"r":13,"b":9},{"t":"13:58","g":0,"p":0,"y":0,"r":0,"b":0},{"t":"13:59","g":6,"p":0,"y":1,"r":0,"b":0},
{"t":"14:00","g":0,"p":0,"y":0,"r":0,"b":0},{"t":"14:01","g":0,"p":0,"y":0,"r":0,"b":0},{"t":"14:02","g":0,"p":0,"y":0,"r":0,"b":0},{"t":"14:03","g":0,"p":0,"y":0,"r":0,"b":0},{"t":"14:04","g":0,"p":0,"y":0,"r":0,"b":0},{"t":"14:05","g":0,"p":0,"y":0,"r":0,"b":0},{"t":"14:06","g":0,"p":0,"y":0,"r":0,"b":0},{"t":"14:07","g":17,"p":16,"y":15,"r":11,"b":9},{"t":"14:08","g":0,"p":0,"y":0,"r":0,"b":0},{"t":"14:09","g":2,"p":1,"y":0,"r":0,"b":0},
{"t":"14:10","g":0,"p":0,"y":0,"r":0,"b":0},{"t":"14:11","g":0,"p":0,"y":0,"r":0,"b":0},{"t":"14:12","g":0,"p":0,"y":0,"r":0,"b":0},{"t":"14:13","g":6,"p":5,"y":0,"r":0,"b":0},{"t":"14:14","g":0,"p":0,"y":0,"r":0,"b":0},{"t":"14:15","g":4,"p":3,"y":0,"r":0,"b":0},{"t":"14:16","g":10,"p":2,"y":1,"r":0,"b":0},{"t":"14:17","g":0,"p":0,"y":0,"r":0,"b":0},{"t":"14:18","g":0,"p":0,"y":0,"r":0,"b":0},{"t":"14:19","g":0,"p":0,"y":0,"r":0,"b":0},
{"t":"14:20","g":0,"p":0,"y":0,"r":0,"b":0},{"t":"14:21","g":0,"p":0,"y":0,"r":0,"b":0},{"t":"14:22","g":0,"p":0,"y":0,"r":0,"b":0},{"t":"14:23","g":2,"p":0,"y":0,"r":0,"b":0},{"t":"14:24","g":10,"p":3,"y":1,"r":0,"b":0},{"t":"14:25","g":8,"p":4,"y":2,"r":1,"b":0},{"t":"14:26","g":17,"p":14,"y":12,"r":6,"b":3},{"t":"14:27","g":0,"p":0,"y":0,"r":0,"b":0},{"t":"14:28","g":36,"p":29,"y":21,"r":14,"b":5},{"t":"14:29","g":0,"p":0,"y":0,"r":0,"b":0},
{"t":"14:30","g":0,"p":0,"y":0,"r":0,"b":0},{"t":"14:31","g":0,"p":0,"y":0,"r":0,"b":0},{"t":"14:32","g":8,"p":3,"y":1,"r":0,"b":0},{"t":"14:33","g":0,"p":0,"y":0,"r":0,"b":0},{"t":"14:34","g":8,"p":3,"y":1,"r":0,"b":0},{"t":"14:35","g":0,"p":0,"y":0,"r":0,"b":0},{"t":"14:36","g":0,"p":0,"y":0,"r":0,"b":0},{"t":"14:37","g":0,"p":0,"y":0,"r":0,"b":0},{"t":"14:38","g":0,"p":0,"y":0,"r":0,"b":0},{"t":"14:39","g":0,"p":0,"y":0,"r":0,"b":0},
{"t":"14:40","g":2,"p":0,"y":0,"r":0,"b":0},{"t":"14:41","g":0,"p":0,"y":0,"r":0,"b":0},{"t":"14:42","g":0,"p":0,"y":0,"r":0,"b":0},{"t":"14:43","g":0,"p":0,"y":0,"r":0,"b":0},{"t":"14:44","g":0,"p":0,"y":0,"r":0,"b":0},{"t":"14:45","g":0,"p":0,"y":0,"r":0,"b":0},{"t":"14:46","g":0,"p":0,"y":0,"r":0,"b":0},{"t":"14:47","g":0,"p":0,"y":0,"r":0,"b":0},{"t":"14:48","g":0,"p":0,"y":0,"r":0,"b":0},{"t":"14:49","g":1,"p":0,"y":0,"r":0,"b":0},
{"t":"14:50","g":0,"p":0,"y":0,"r":0,"b":0},{"t":"14:51","g":0,"p":0,"y":0,"r":0,"b":0},{"t":"14:52","g":0,"p":0,"y":0,"r":0,"b":0},{"t":"14:53","g":5,"p":3,"y":2,"r":1,"b":0},{"t":"14:54","g":0,"p":0,"y":0,"r":0,"b":0},{"t":"14:55","g":7,"p":3,"y":2,"r":0,"b":0},{"t":"14:56","g":0,"p":0,"y":0,"r":0,"b":0},{"t":"14:57","g":0,"p":0,"y":0,"r":0,"b":0},{"t":"14:58","g":0,"p":0,"y":0,"r":0,"b":0},{"t":"14:59","g":0,"p":0,"y":0,"r":0,"b":0},
{"t":"15:00","g":24,"p":17,"y":14,"r":10,"b":7}
]
},
"vconcat":[
{
 "width":1783,"height":222,
 "title":{"text":"Mean Altitude Shift =0 ft"},
 "resolve":{"axis":{"x":"independent","y":"independent"}},
 "layer":[
  {"data":{"name":"shift0","format":{"parse":{"t":"date:'%H:%M'"}}},
   "transform":[{"fold":["g","p","y","r","b"],"as":["k","v"]},{"lookup":"k","from":{"data":{"name":"series"},"key":"k","fields":["std"]}}],
   "mark":{"type":"line","strokeWidth":1.5},
   "encoding":{
    "x":{"field":"t","type":"temporal","scale":{"domain":[{"year":1900,"month":1,"date":1,"hours":11,"minutes":50},{"year":1900,"month":1,"date":1,"hours":15}],"nice":false},"axis":{"orient":"bottom","values":[{"year":1900,"month":1,"date":1,"hours":12},{"year":1900,"month":1,"date":1,"hours":13},{"year":1900,"month":1,"date":1,"hours":14},{"year":1900,"month":1,"date":1,"hours":15}],"format":"%H:%M:%S","tickSize":-17,"labelPadding":29,"title":null}},
    "y":{"field":"v","type":"quantitative","scale":{"domain":[0,100],"nice":false},"axis":{"orient":"left","values":[0,20,40,60,80,100],"tickSize":-17,"labelPadding":29.5,"title":null}},
    "color":{"field":"std","type":"nominal","scale":{"domain":["30 ft","20 ft","15 ft","10 ft","5 ft"],"range":["#77AC30","#7E2F8E","#EDB120","#D95319","#0072BD"]},"legend":{"title":"Error StD."}}
   }},
  {"data":{"values":[{"t":"14:27:40","v":52.3}],"format":{"parse":{"t":"date:'%H:%M:%S'"}}},
   "mark":{"type":"point","shape":"M-1,0A1,0.667,0,1,1,1,0A1,0.667,0,1,1,-1,0Z","size":2304,"filled":true,"fill":"#e45656","fillOpacity":0.85,"stroke":"#000000","strokeWidth":2,"opacity":1},
   "encoding":{"x":{"field":"t","type":"temporal","axis":null},"y":{"field":"v","type":"quantitative","axis":null}}},
  {"data":{"values":[{"level":52.3}]},
   "mark":{"type":"rule","stroke":"#7a7a7a","strokeOpacity":0.2,"strokeWidth":7,"strokeDash":[14,7],"yOffset":5},
   "encoding":{"x":{"datum":{"year":1900,"month":1,"date":1,"hours":11,"minutes":50,"seconds":40},"type":"temporal","axis":null},"x2":{"datum":{"year":1900,"month":1,"date":1,"hours":14,"minutes":27,"seconds":40}},"y":{"field":"level","type":"quantitative","axis":null}}},
  {"data":{"values":[{"level":52.3}]},
   "mark":{"type":"rule","stroke":"#4667b1","strokeWidth":5,"strokeDash":[14,7]},
   "encoding":{
    "x":{"datum":{"year":1900,"month":1,"date":1,"hours":11,"minutes":50,"seconds":40},"type":"temporal","axis":{"orient":"top","labels":false,"title":null,"tickSize":-17,"values":[{"year":1900,"month":1,"date":1,"hours":12},{"year":1900,"month":1,"date":1,"hours":13},{"year":1900,"month":1,"date":1,"hours":14},{"year":1900,"month":1,"date":1,"hours":15}]}},
    "x2":{"datum":{"year":1900,"month":1,"date":1,"hours":14,"minutes":27,"seconds":40}},
    "y":{"field":"level","type":"quantitative","axis":{"orient":"right","labels":false,"title":null,"tickSize":-16,"values":[0,20,40,60,80,100]}}}}
 ]
},
{
 "width":1783,"height":222,
 "title":{"text":"Mean Altitude Shift =-5 ft","offset":-66},
 "resolve":{"axis":{"x":"independent","y":"independent"}},
 "layer":[
  {"data":{"name":"shift5","format":{"parse":{"t":"date:'%H:%M'"}}},
   "transform":[{"fold":["g","p","y","r","b"],"as":["k","v"]},{"lookup":"k","from":{"data":{"name":"series"},"key":"k","fields":["std"]}}],
   "mark":{"type":"line","strokeWidth":1.5},
   "encoding":{
    "x":{"field":"t","type":"temporal","scale":{"domain":[{"year":1900,"month":1,"date":1,"hours":11,"minutes":50},{"year":1900,"month":1,"date":1,"hours":15}],"nice":false},"axis":{"orient":"bottom","values":[{"year":1900,"month":1,"date":1,"hours":12},{"year":1900,"month":1,"date":1,"hours":13},{"year":1900,"month":1,"date":1,"hours":14},{"year":1900,"month":1,"date":1,"hours":15}],"format":"%H:%M:%S","tickSize":-17,"labelPadding":29,"title":null}},
    "y":{"field":"v","type":"quantitative","scale":{"domain":[0,100],"nice":false},"axis":{"orient":"left","values":[0,20,40,60,80,100],"tickSize":-17,"labelPadding":29.5,"title":"Chance of triggering an RA (%)","titlePadding":-2}},
    "color":{"field":"std","type":"nominal","scale":{"domain":["30 ft","20 ft","15 ft","10 ft","5 ft"],"range":["#77AC30","#7E2F8E","#EDB120","#D95319","#0072BD"]},"legend":{"title":"Error StD."}}
   }},
  {"data":{"values":[{"t":"14:28:24","v":29}],"format":{"parse":{"t":"date:'%H:%M:%S'"}}},
   "mark":{"type":"point","shape":"M-1,0A1,0.74,0,1,1,1,0A1,0.74,0,1,1,-1,0Z","size":4225,"filled":true,"fill":"#0a0a0a","stroke":"#000000","strokeWidth":2,"opacity":1},
   "encoding":{"x":{"field":"t","type":"temporal","axis":null},"y":{"field":"v","type":"quantitative","axis":null}}},
  {"data":{"values":[{"level":33.6}]},
   "mark":{"type":"rule","stroke":"#7a7a7a","strokeOpacity":0.2,"strokeWidth":7,"strokeDash":[14,7],"yOffset":5},
   "encoding":{"x":{"datum":{"year":1900,"month":1,"date":1,"hours":11,"minutes":50,"seconds":40},"type":"temporal","axis":null},"x2":{"datum":{"year":1900,"month":1,"date":1,"hours":14,"minutes":27,"seconds":40}},"y":{"field":"level","type":"quantitative","axis":null}}},
  {"data":{"values":[{"level":33.6}]},
   "mark":{"type":"rule","stroke":"#4667b1","strokeWidth":5,"strokeDash":[14,7]},
   "encoding":{
    "x":{"datum":{"year":1900,"month":1,"date":1,"hours":11,"minutes":50,"seconds":40},"type":"temporal","axis":{"orient":"top","labels":false,"title":null,"tickSize":-17,"values":[{"year":1900,"month":1,"date":1,"hours":12},{"year":1900,"month":1,"date":1,"hours":13},{"year":1900,"month":1,"date":1,"hours":14},{"year":1900,"month":1,"date":1,"hours":15}]}},
    "x2":{"datum":{"year":1900,"month":1,"date":1,"hours":14,"minutes":27,"seconds":40}},
    "y":{"field":"level","type":"quantitative","axis":{"orient":"right","labels":false,"title":null,"tickSize":-16,"values":[0,20,40,60,80,100]}}}}
 ]
},
{
 "width":1783,"height":222,
 "title":{"text":"Mean Altitude Shift =-10 ft"},
 "resolve":{"axis":{"x":"independent","y":"independent"}},
 "layer":[
  {"data":{"name":"shift10","format":{"parse":{"t":"date:'%H:%M'"}}},
   "transform":[{"fold":["g","p","y","r","b"],"as":["k","v"]},{"lookup":"k","from":{"data":{"name":"series"},"key":"k","fields":["std"]}}],
   "mark":{"type":"line","strokeWidth":1.5},
   "encoding":{
    "x":{"field":"t","type":"temporal","scale":{"domain":[{"year":1900,"month":1,"date":1,"hours":11,"minutes":50},{"year":1900,"month":1,"date":1,"hours":15}],"nice":false},"axis":{"orient":"bottom","values":[{"year":1900,"month":1,"date":1,"hours":12},{"year":1900,"month":1,"date":1,"hours":13},{"year":1900,"month":1,"date":1,"hours":14},{"year":1900,"month":1,"date":1,"hours":15}],"format":"%H:%M:%S","tickSize":-17,"labelPadding":29,"title":"Time of Day (hh:mm:ss)","titlePadding":8}},
    "y":{"field":"v","type":"quantitative","scale":{"domain":[0,100],"nice":false},"axis":{"orient":"left","values":[0,20,40,60,80,100],"tickSize":-17,"labelPadding":29.5,"title":null}},
    "color":{"field":"std","type":"nominal","scale":{"domain":["30 ft","20 ft","15 ft","10 ft","5 ft"],"range":["#77AC30","#7E2F8E","#EDB120","#D95319","#0072BD"]},"legend":{"title":"Error StD."}}
   }},
  {"data":{"values":[{"t":"14:28:16","v":7.2}],"format":{"parse":{"t":"date:'%H:%M:%S'"}}},
   "mark":{"type":"point","shape":"M-1,0A1,0.667,0,1,1,1,0A1,0.667,0,1,1,-1,0Z","size":2304,"filled":true,"fill":"#e45656","fillOpacity":0.85,"stroke":"#000000","strokeWidth":2,"opacity":1},
   "encoding":{"x":{"field":"t","type":"temporal","axis":null},"y":{"field":"v","type":"quantitative","axis":null}}},
  {"data":{"values":[{"level":7.2}]},
   "mark":{"type":"rule","stroke":"#7a7a7a","strokeOpacity":0.2,"strokeWidth":7,"strokeDash":[14,7],"yOffset":5},
   "encoding":{"x":{"datum":{"year":1900,"month":1,"date":1,"hours":11,"minutes":50,"seconds":40},"type":"temporal","axis":null},"x2":{"datum":{"year":1900,"month":1,"date":1,"hours":14,"minutes":27,"seconds":40}},"y":{"field":"level","type":"quantitative","axis":null}}},
  {"data":{"values":[{"level":7.2}]},
   "mark":{"type":"rule","stroke":"#4667b1","strokeWidth":5,"strokeDash":[14,7]},
   "encoding":{
    "x":{"datum":{"year":1900,"month":1,"date":1,"hours":11,"minutes":50,"seconds":40},"type":"temporal","axis":{"orient":"top","labels":false,"title":null,"tickSize":-17,"values":[{"year":1900,"month":1,"date":1,"hours":12},{"year":1900,"month":1,"date":1,"hours":13},{"year":1900,"month":1,"date":1,"hours":14},{"year":1900,"month":1,"date":1,"hours":15}]}},
    "x2":{"datum":{"year":1900,"month":1,"date":1,"hours":14,"minutes":27,"seconds":40}},
    "y":{"field":"level","type":"quantitative","axis":{"orient":"right","labels":false,"title":null,"tickSize":-16,"values":[0,20,40,60,80,100]}}}}
 ]
}
]
}
